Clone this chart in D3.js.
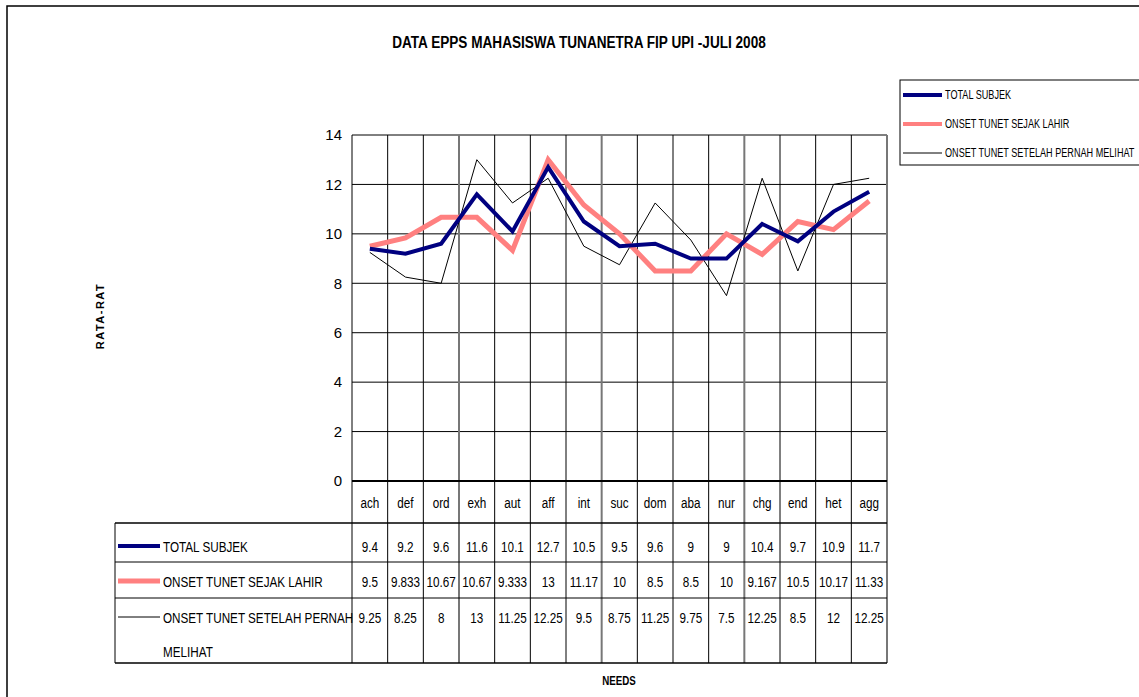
<!DOCTYPE html>
<html>
<head>
<meta charset="utf-8">
<script src="https://cdn.jsdelivr.net/npm/d3@7"></script>
<style>
  body { margin: 0; background: #fff; }
  svg { display: block; font-family: "Liberation Sans", Arial, sans-serif; }
</style>
</head>
<body>
<svg width="1139" height="697"></svg>
<script>
var needs = ['ach', 'def', 'ord', 'exh', 'aut', 'aff', 'int', 'suc', 'dom', 'aba', 'nur', 'chg', 'end', 'het', 'agg'];
var totalSubjek = [9.4, 9.2, 9.6, 11.6, 10.1, 12.7, 10.5, 9.5, 9.6, 9, 9, 10.4, 9.7, 10.9, 11.7];
var sejakLahir = [9.5, 9.833, 10.67, 10.67, 9.333, 13, 11.17, 10, 8.5, 8.5, 10, 9.167, 10.5, 10.17, 11.33];
var setelahMelihat = [9.25, 8.25, 8, 13, 11.25, 12.25, 9.5, 8.75, 11.25, 9.75, 7.5, 12.25, 8.5, 12, 12.25];
var yTicks = [0, 2, 4, 6, 8, 10, 12, 14];

var series = [
  { name: 'TOTAL SUBJEK', lines: ['TOTAL SUBJEK'], values: totalSubjek, color: '#000080', width: 4 },
  { name: 'ONSET TUNET SEJAK LAHIR', lines: ['ONSET TUNET SEJAK LAHIR'], values: sejakLahir, color: '#ff8080', width: 5 },
  { name: 'ONSET TUNET SETELAH PERNAH MELIHAT', lines: ['ONSET TUNET SETELAH PERNAH', 'MELIHAT'], values: setelahMelihat, color: '#000000', width: 1 }
];

var svg = d3.select('svg');

var plotLeft = 352, plotRight = 887, plotTop = 135, plotBottom = 481;
var x = d3.scaleBand().domain(needs).range([plotLeft, plotRight]);
var y = d3.scaleLinear().domain([0, 14]).range([plotBottom, plotTop]);

// narrow text, like Arial Narrow
function narrow(sel, px, py, anchor, size, weight, sx) {
  return sel.append('text')
    .attr('transform', 'translate(' + px + ',' + py + ') scale(' + (sx || 0.78) + ',1)')
    .attr('text-anchor', anchor)
    .attr('font-size', size)
    .attr('font-weight', weight || 'normal')
    .attr('fill', '#000');
}

// outer frame
svg.append('path')
  .attr('d', 'M7,697 L7,6 L1139,6')
  .attr('fill', 'none')
  .attr('stroke', '#000')
  .attr('stroke-width', 1.5);

// title
narrow(svg, 579, 48, 'middle', 17, 'bold', 0.8).text('DATA EPPS MAHASISWA TUNANETRA FIP UPI -JULI 2008');

// horizontal grid
svg.append('g').selectAll('line')
  .data(yTicks.slice(1))
  .join('line')
  .attr('x1', plotLeft).attr('x2', plotRight)
  .attr('y1', d => y(d)).attr('y2', d => y(d))
  .attr('stroke', '#000').attr('stroke-width', 1);

// table geometry
var tableLeft = 115, rowTops = [523, 562, 598], tableBottom = 663;

// vertical lines (plot + table columns)
var bounds = needs.map(d => x(d)).concat([plotRight]);
svg.append('g').selectAll('line')
  .data(bounds)
  .join('line')
  .attr('x1', d => d).attr('x2', d => d)
  .attr('y1', plotTop).attr('y2', tableBottom)
  .attr('stroke', (d, i) => (i % 4 === 3 ? '#777' : '#000'))
  .attr('stroke-width', (d, i) => (i % 4 === 3 ? 2 : 1));

// x axis line and table rows
svg.append('line').attr('x1', plotLeft).attr('x2', plotRight).attr('y1', plotBottom).attr('y2', plotBottom)
  .attr('stroke', '#000').attr('stroke-width', 2);
svg.append('g').selectAll('line')
  .data(rowTops.concat([tableBottom]))
  .join('line')
  .attr('x1', tableLeft).attr('x2', plotRight)
  .attr('y1', d => d).attr('y2', d => d)
  .attr('stroke', '#000').attr('stroke-width', (d, i) => (i === 0 || i === 3 ? 1.5 : 1));
svg.append('line').attr('x1', tableLeft).attr('x2', tableLeft).attr('y1', rowTops[0]).attr('y2', tableBottom)
  .attr('stroke', '#000').attr('stroke-width', 1);

// y axis labels
var yAxis = svg.append('g')
  .attr('transform', 'translate(' + plotLeft + ',0)')
  .call(d3.axisLeft(y).tickValues(yTicks).tickSize(0).tickPadding(10));
yAxis.select('.domain').remove();
yAxis.selectAll('text')
  .attr('font-size', 15)
  .attr('font-family', '"Liberation Sans", Arial, sans-serif')
  .attr('fill', '#000');

// category labels
var catG = svg.append('g');
needs.forEach(function (n) {
  narrow(catG, x(n) + x.bandwidth() / 2, 508, 'middle', 15).text(n);
});

// series lines
var line = d3.line()
  .x((d, i) => x(needs[i]) + x.bandwidth() / 2)
  .y(d => y(d));

svg.append('g').selectAll('path')
  .data([series[2], series[1], series[0]])
  .join('path')
  .attr('d', d => line(d.values))
  .attr('fill', 'none')
  .attr('stroke', d => d.color)
  .attr('stroke-width', d => d.width)
  .attr('stroke-linejoin', 'miter');

// table rows
var rowCenters = [546, 581, 617];
series.forEach(function (s, si) {
  var cy = rowCenters[si];
  svg.append('line')
    .attr('x1', 118).attr('x2', 160).attr('y1', cy).attr('y2', cy)
    .attr('stroke', s.color).attr('stroke-width', s.width);
  s.lines.forEach(function (l, li) {
    narrow(svg, 163, cy + 6 + li * 34, 'start', 15).text(l);
  });
  s.values.forEach(function (v, i) {
    narrow(svg, x(needs[i]) + x.bandwidth() / 2, cy + 6, 'middle', 15).text(v);
  });
});

// axis titles
svg.append('text')
  .attr('transform', 'translate(104,316) rotate(-90)')
  .attr('text-anchor', 'middle')
  .attr('font-size', 11)
  .attr('font-weight', 'bold')
  .attr('letter-spacing', 1.5)
  .text('RATA-RAT');
narrow(svg, 619, 685, 'middle', 13, 'bold', 0.75).text('NEEDS');

// legend
var lg = svg.append('g');
lg.append('rect')
  .attr('x', 900).attr('y', 80).attr('width', 260).attr('height', 85)
  .attr('fill', '#fff').attr('stroke', '#000').attr('stroke-width', 1);
series.forEach(function (s, i) {
  var ly = 95 + i * 29;
  lg.append('line')
    .attr('x1', 903).attr('x2', 942).attr('y1', ly).attr('y2', ly)
    .attr('stroke', s.color).attr('stroke-width', Math.min(s.width, 4));
  narrow(lg, 945, ly + 4, 'start', 13, 'normal', 0.7).text(s.name);
});
</script>
</body>
</html>
